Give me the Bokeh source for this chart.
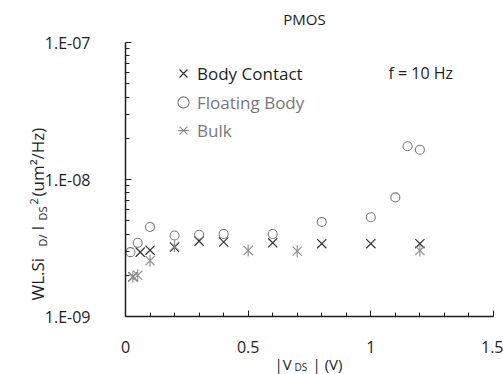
import math
from bokeh.plotting import figure
from bokeh.models import (FixedTicker, CustomJSTickFormatter, Label, Legend,
                          LegendItem, Range1d)
from bokeh.embed import file_html
from bokeh.resources import INLINE

# Normalised drain-current noise vs |V_DS| for a PMOS device at f = 10 Hz
body_x = [0.03, 0.06, 0.1, 0.2, 0.3, 0.4, 0.6, 0.8, 1.0, 1.2]
body_y = [1.95e-9, 2.95e-9, 3.05e-9, 3.2e-9, 3.55e-9, 3.5e-9, 3.45e-9, 3.4e-9, 3.4e-9, 3.4e-9]

float_x = [0.02, 0.05, 0.1, 0.2, 0.3, 0.4, 0.6, 0.8, 1.0, 1.1, 1.15, 1.2]
float_y = [2.95e-9, 3.45e-9, 4.5e-9, 3.9e-9, 3.95e-9, 4.0e-9, 4.0e-9, 4.9e-9, 5.3e-9,
           7.4e-9, 1.75e-8, 1.65e-8]

bulk_x = [0.03, 0.05, 0.1, 0.2, 0.5, 0.7, 1.2]
bulk_y = [1.95e-9, 2.0e-9, 2.55e-9, 3.25e-9, 3.03e-9, 3.0e-9, 3.03e-9]

x_ticks = [0, 0.5, 1, 1.5]
y_ticks = [1e-9, 1e-8, 1e-7]

FONT = "Open Sans"
DARK = "#1e1e1e"
GREY = "#777777"

# Canvas geometry: the frame fills the canvas and the axes sit at fixed
# data locations, so the plotting box spans pixels [125, 493] x [42, 316].
W, H = 503, 374
PX0, PX1, PY0, PY1 = 125, 493, 42, 316
X0, X1 = x_ticks[0], x_ticks[-1]
Y0, Y1 = y_ticks[0], y_ticks[-1]
kx = (PX1 - PX0) / (X1 - X0)
kd = (PY1 - PY0) / (math.log10(Y1) - math.log10(Y0))
x_range = Range1d(X0 - PX0 / kx, X1 + (W - PX1) / kx)
y_range = Range1d(Y0 / 10 ** ((H - PY1) / kd), Y1 * 10 ** (PY0 / kd))

p = figure(width=W, height=H, y_axis_type="log", x_range=x_range, y_range=y_range,
           output_backend="svg", toolbar_location=None,
           min_border=0, min_border_left=0, min_border_right=0,
           min_border_top=0, min_border_bottom=0)
p.title.visible = False
p.outline_line_color = None
p.background_fill_color = "white"
p.border_fill_color = "white"
p.xgrid.visible = False
p.ygrid.visible = False

# x axis
minor_x = [round(0.1 * i, 1) for i in range(16)]
p.xaxis.ticker = FixedTicker(ticks=x_ticks, minor_ticks=minor_x)
p.xaxis.formatter = CustomJSTickFormatter(code="return String(tick)")
p.xaxis.fixed_location = Y0
p.xaxis.bounds = (X0, X1)
# y axis
minor_y = [m * d for d in (1e-9, 1e-8) for m in range(2, 10)]
p.yaxis.ticker = FixedTicker(ticks=y_ticks, minor_ticks=minor_y)
p.yaxis.formatter = CustomJSTickFormatter(
    code="return '1.E-' + String(-Math.round(Math.log10(tick))).padStart(2, '0')")
p.yaxis.fixed_location = X0
p.yaxis.bounds = (Y0, Y1)

for ax in (p.xaxis[0], p.yaxis[0]):
    ax.axis_line_color = DARK
    ax.axis_line_width = 1.5
    ax.major_tick_line_color = DARK
    ax.minor_tick_line_color = DARK
    ax.major_tick_in = 6
    ax.major_tick_out = 0
    ax.minor_tick_in = 4
    ax.minor_tick_out = 0
    ax.major_label_text_font = FONT
    ax.major_label_text_font_size = "16px"
    ax.major_label_text_color = DARK
p.xaxis.major_label_standoff = 24
p.yaxis.major_label_standoff = 35

# series
r_body = p.scatter(body_x, body_y, marker="x", size=13, line_color="#333333", line_width=1.2)
r_float = p.scatter(float_x, float_y, marker="circle", size=9, fill_color=None,
                    line_color="#7a7a7a", line_width=1.1)
# six-armed star for the bulk device: a cross with a vertical stroke through it
r_bulk_x = p.scatter(bulk_x, bulk_y, marker="x", size=13, line_color="#8a8a8a",
                     line_width=1.1)
r_bulk_v = p.scatter(bulk_x, bulk_y, marker="dash", size=12, angle=math.pi / 2,
                     line_color="#8a8a8a", line_width=1.1)

# legends (two, so the labels can carry different colours); location is bottom-left
leg1 = Legend(items=[LegendItem(label="Body Contact", renderers=[r_body])],
              location=(169, H - 87), orientation="vertical")
leg2 = Legend(items=[LegendItem(label="Floating Body", renderers=[r_float]),
                     LegendItem(label="Bulk", renderers=[r_bulk_x, r_bulk_v])],
              location=(169, H - 144), orientation="vertical")
for lg, col in ((leg1, DARK), (leg2, GREY)):
    lg.border_line_color = None
    lg.background_fill_alpha = 0
    lg.padding = 0
    lg.margin = 0
    lg.spacing = 0
    lg.glyph_width = 28
    lg.glyph_height = 28
    lg.label_height = 28
    lg.label_standoff = 0
    lg.label_text_font = FONT
    lg.label_text_font_size = "17px"
    lg.label_text_color = col
    p.add_layout(lg, "center")


def lab(text, sx, sy, size="16px", color=DARK, align="left", angle=0.0):
    """Place a text piece at canvas pixel (sx, sy)."""
    p.add_layout(Label(x=sx, y=H - sy, x_units="screen", y_units="screen",
                       text=text, text_font=FONT, text_font_size=size,
                       text_color=color, text_align=align, text_baseline="middle",
                       angle=angle))


# title and annotation
lab("PMOS", 304, 18, size="15px", align="center")
lab("f = 10 Hz", 388, 72, size="16px")

# x axis title: |V_DS| (V)
lab("|V", 274, 363, size="15px")
lab("DS", 294, 366, size="10px")
lab("| (V)", 312, 363, size="15px")

# y axis title: WL.Si_D/ I_DS^2 (um²/Hz), reading upwards
ang = math.pi / 2
lab("WL.Si", 37, 300, size="17px", angle=ang)
lab("D/", 42, 246, size="11px", angle=ang)
lab("I", 37, 230, size="17px", angle=ang)
lab("DS", 42, 220, size="11px", angle=ang)
lab("2", 33, 204, size="11px", angle=ang)
lab("(um²/Hz)", 37, 196, size="17px", angle=ang)

open("out.html", "w").write(file_html(p, INLINE))
